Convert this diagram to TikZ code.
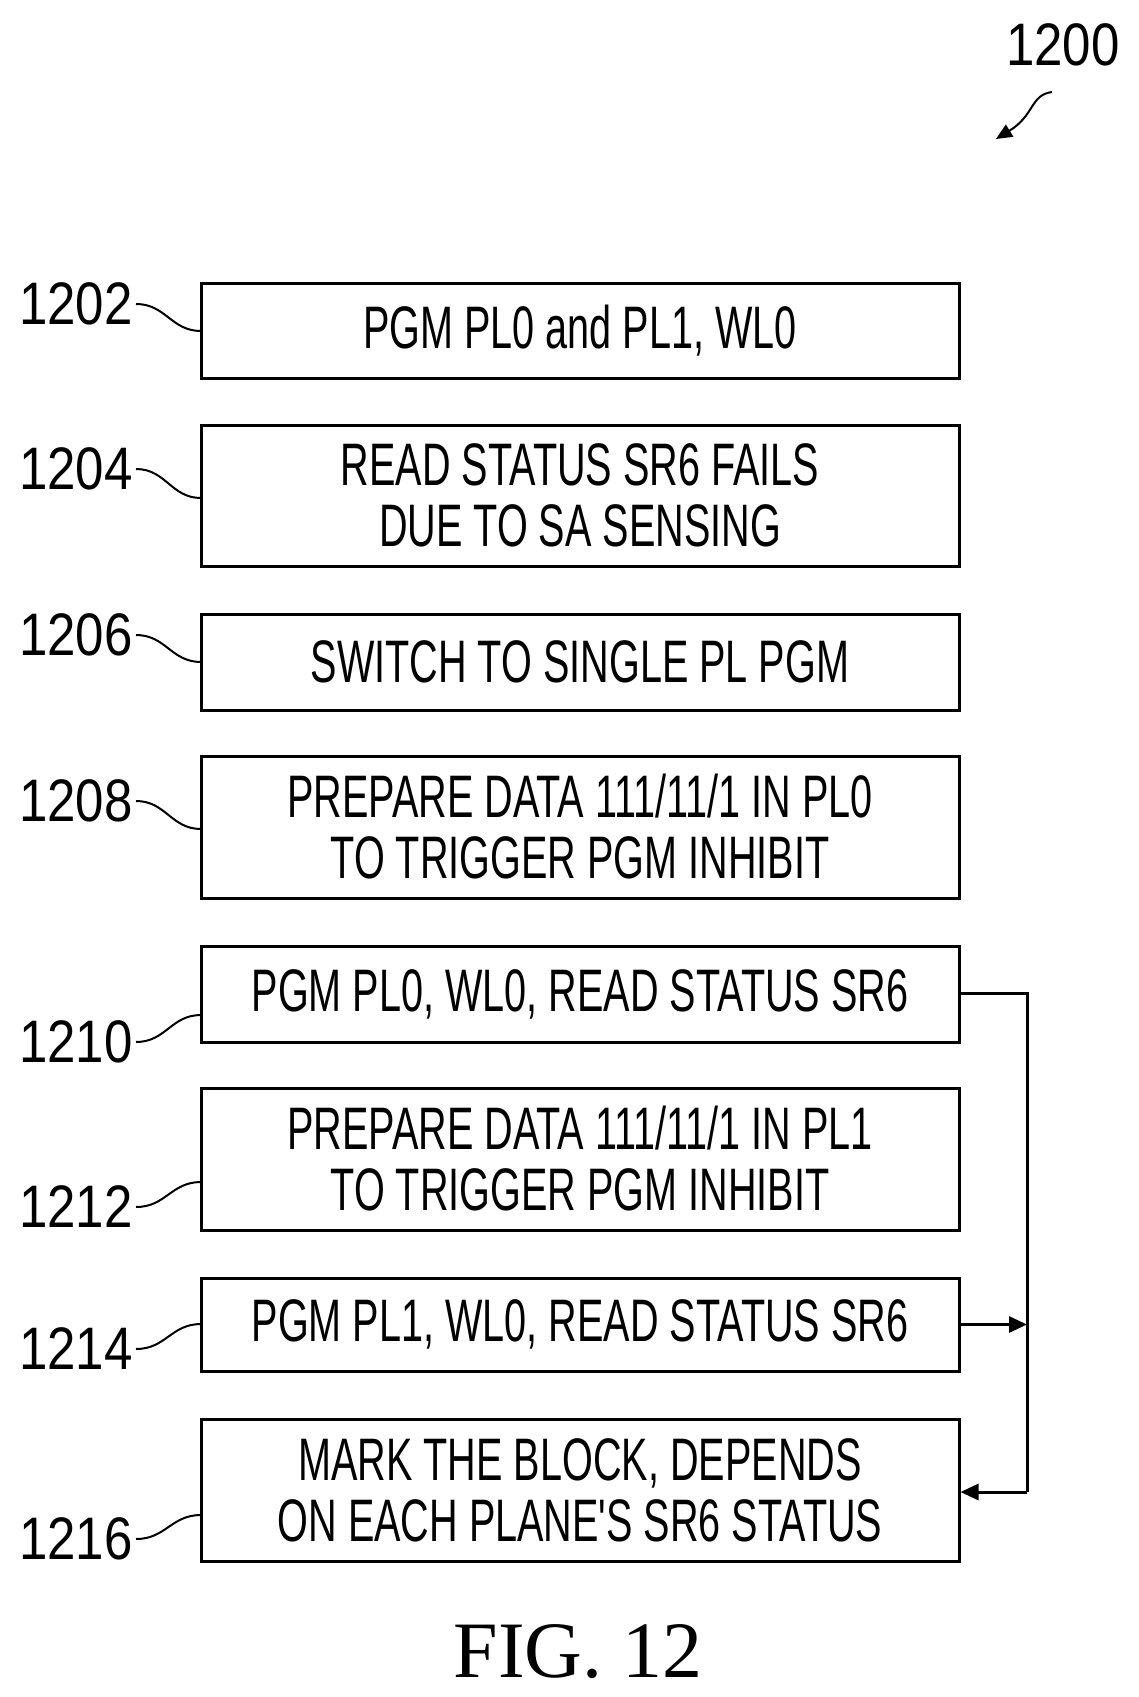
\documentclass[tikz,border=0pt]{standalone}
\usepackage{fontspec}
\setmainfont{Liberation Sans}
\newfontfamily\boxfont[FakeStretch=0.66]{Liberation Sans}
\newfontfamily\numfont[FakeStretch=0.85]{Liberation Sans}
\newfontfamily\figfont{Liberation Serif}
\usetikzlibrary{arrows.meta}

\begin{document}
\begin{tikzpicture}[x=1pt,y=-1pt,>={Triangle[length=18pt,width=16pt]},
                    stepbox/.style={draw,line width=3pt,minimum width=758pt,inner sep=0pt,
                      align=center,font=\boxfont\fontsize{60}{61}\selectfont},
                    ref/.style={font=\numfont\fontsize{60}{60}\selectfont,anchor=east},
                    lead/.style={line width=2pt}]
\useasboundingbox (0,0) rectangle (1139,1697);

% steps
\node[stepbox,minimum height=95pt] (s1202) at (580,330.5) {PGM PL0 and PL1, WL0};
\node[stepbox,minimum height=141pt] (s1204) at (580,495.5) {READ STATUS SR6 FAILS\\DUE TO SA SENSING};
\node[stepbox,minimum height=96pt] (s1206) at (580,662) {SWITCH TO SINGLE PL PGM};
\node[stepbox,minimum height=142pt] (s1208) at (580,827) {PREPARE DATA 111/11/1 IN PL0\\TO TRIGGER PGM INHIBIT};
\node[stepbox,minimum height=96pt] (s1210) at (580,994) {PGM PL0, WL0, READ STATUS SR6};
\node[stepbox,minimum height=142pt] (s1212) at (580,1159) {PREPARE DATA 111/11/1 IN PL1\\TO TRIGGER PGM INHIBIT};
\node[stepbox,minimum height=93pt] (s1214) at (580,1324.5) {PGM PL1, WL0, READ STATUS SR6};
\node[stepbox,minimum height=142pt] (s1216) at (580,1490) {MARK THE BLOCK, DEPENDS\\ON EACH PLANE'S SR6 STATUS};

% reference numerals
\foreach \n/\y/\t in {1202/304/331, 1204/469/498, 1206/635/662, 1208/801/829,
                      1210/1042/1015, 1212/1207/1182, 1214/1349/1324, 1216/1539/1515} {
  \node[ref] (r\n) at (136,\y) {\n};
  \coordinate (c\n) at (201,\t);
  \draw[lead] (r\n.east) .. controls ([xshift=30pt]r\n.east) and ([xshift=-30pt]c\n) .. (c\n);
}

% feedback
\coordinate (bend1) at (1027,993);
\coordinate (bend2) at (1027,1492);
\draw[line width=3pt] (s1210.east |- bend1) -- (bend1) -- (bend2);
\draw[line width=3pt,->] (bend2) -- (s1216.east |- bend2);
\draw[line width=3pt,->] (s1214.east) -- (s1214.east -| bend1);

% figure number
\node[font=\numfont\fontsize{60}{60}\selectfont] (n1200) at (1063,45) {1200};
\coordinate (tip) at (996,139);
\draw[lead,-{Triangle[length=16pt,width=14pt]}] (1052,92) .. controls (1030,95) and (1035,115) .. (tip);
\node[font=\figfont\fontsize{80}{80}\selectfont] (fig) at (578,1652) {FIG. 12};
\end{tikzpicture}
\end{document}
